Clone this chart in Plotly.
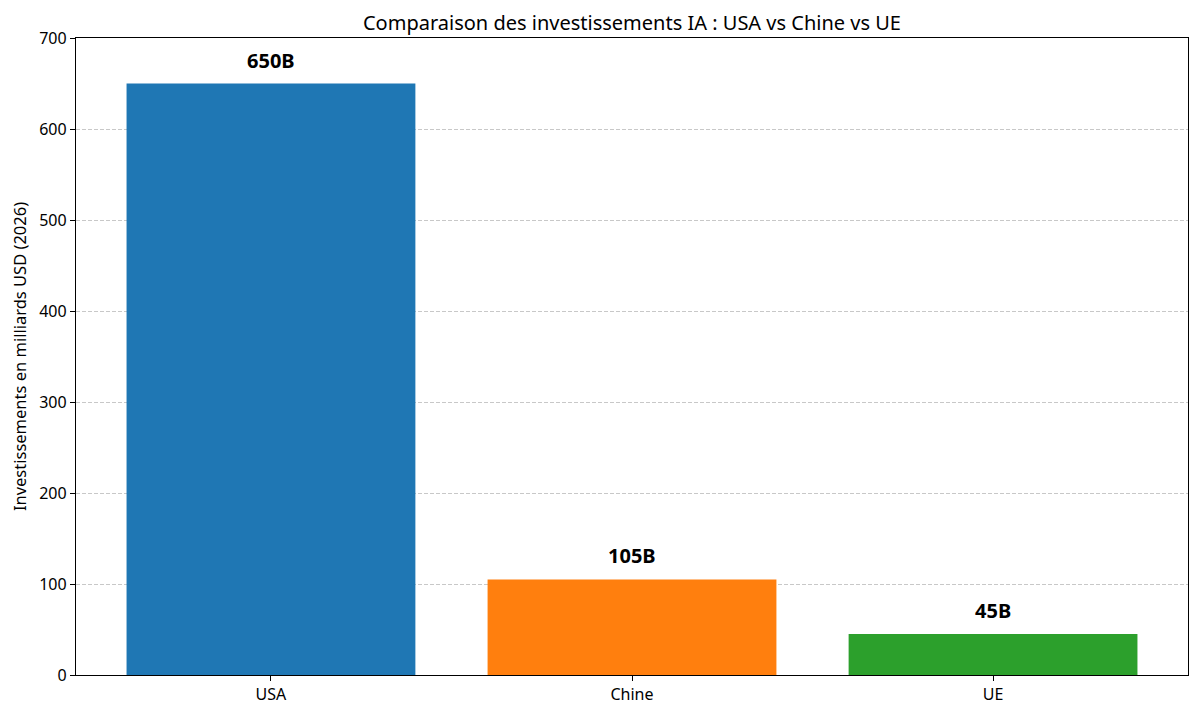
import plotly.graph_objects as go

# Data
regions = ["USA", "Chine", "UE"]
investments = [650, 105, 45]
labels = ["650B", "105B", "45B"]
colors = ["#1f77b4", "#ff7f0e", "#2ca02c"]
y_ticks = [0, 100, 200, 300, 400, 500, 600, 700]

FONT = "Noto Sans"

fig = go.Figure(go.Bar(
    x=regions,
    y=investments,
    marker_color=colors,
    marker_line_width=0,
    width=0.8,
))

# Value labels above the bars
for r, v, t in zip(regions, investments, labels):
    fig.add_annotation(
        x=r, y=v, text=f"<b>{t}</b>",
        showarrow=False, yanchor="bottom", yshift=8,
        font=dict(family=FONT, size=20, color="black"),
    )

# page has an 8px body margin, so the figure is sized to compensate
fig.update_layout(
    width=1184,
    height=700,
    margin=dict(l=68, r=4, t=30, b=33),
    plot_bgcolor="white",
    paper_bgcolor="white",
    showlegend=False,
    font=dict(family=FONT, size=16, color="black"),
    title=dict(
        text="Comparaison des investissements IA : USA vs Chine vs UE",
        x=0.527, xanchor="center", y=0.978, yanchor="middle",
        font=dict(family=FONT, size=20, color="black"),
    ),
)

fig.update_xaxes(
    range=[-0.54, 2.54],
    showline=True, linecolor="black", linewidth=1.2, mirror=True,
    ticks="outside", ticklen=5, tickcolor="black",
    tickfont=dict(family=FONT, size=16, color="black"),
    showgrid=False,
)
fig.update_yaxes(
    range=[0, 700],
    tickvals=y_ticks,
    showline=True, linecolor="black", linewidth=1.2, mirror=True,
    ticks="outside", ticklen=5, tickcolor="black",
    tickfont=dict(family=FONT, size=16, color="black"),
    showgrid=True, gridcolor="#c8c8c8", griddash="4px,2px", gridwidth=1,
    zeroline=False,
    title=dict(text="Investissements en milliards USD (2026)", standoff=10,
               font=dict(family=FONT, size=16.5)),
)

fig.write_html("out.html")
